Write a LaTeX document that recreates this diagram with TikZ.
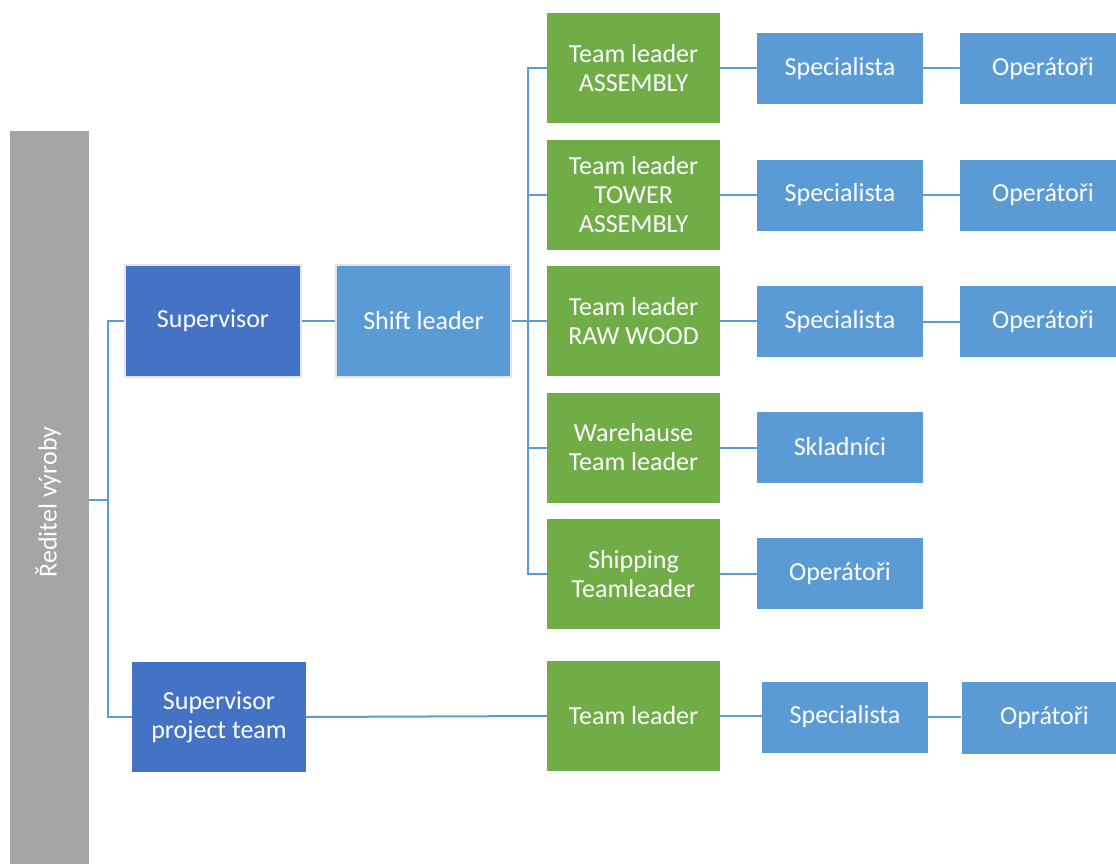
\documentclass[tikz,border=0pt]{standalone}
\usepackage{fontspec}
\setmainfont{Carlito}
\definecolor{dirgrey}{HTML}{A5A5A5}
\definecolor{darkblue}{HTML}{4472C4}
\definecolor{lightblue}{HTML}{5B9BD5}
\definecolor{leafgreen}{HTML}{70AD47}
\definecolor{edgegrey}{HTML}{E4E4E4}
\begin{document}
\begin{tikzpicture}[x=1pt,y=-1pt,
  box/.style={inner sep=0pt, text=white, align=center,
    font=\fontsize{26}{29}\selectfont},
  supbox/.style={box, fill=darkblue},
  shiftbox/.style={box, fill=lightblue},
  framed/.style={draw=edgegrey, line width=2pt},
  leader/.style={box, fill=leafgreen, minimum width=173, minimum height=110},
  spec/.style={box, fill=lightblue, minimum width=166, minimum height=71},
  oper/.style={box, fill=lightblue, minimum width=166, minimum height=71},
  conn/.style={draw=lightblue, line width=2pt}]
\useasboundingbox (0,0) rectangle (1116,864);

% director column
\node[fill=dirgrey, minimum width=79, minimum height=733, inner sep=0pt] (dir) at (49.5,497.5) {};
\node[box, rotate=90] (dirtext) at (48,502) {Ředitel výroby};

% supervisors
\node[supbox, framed, minimum width=176, minimum height=112] (sup) at (213,321) {Supervisor};
\node[shiftbox, framed, minimum width=175, minimum height=112] (shift) at (423.5,321) {Shift leader};
\node[supbox, minimum width=174, minimum height=110] (proj) at (219,717) {Supervisor\\project team};

% team leaders
\node[leader] (g1) at (633.5,68) {Team leader\\ASSEMBLY};
\node[leader] (g2) at (633.5,195) {Team leader\\TOWER\\ASSEMBLY};
\node[leader] (g3) at (633.5,321) {Team leader\\RAW WOOD};
\node[leader] (g4) at (633.5,447.5) {Warehause\\Team leader};
\node[leader] (g5) at (633.5,574) {Shipping\\Teamleader};
\node[leader] (g6) at (633.5,716) {Team leader};

% specialists and operators
\node[spec] (s1) at (840,68.5) {Specialista};
\node[spec] (s2) at (840,195) {Specialista};
\node[spec] (s3) at (840,321.5) {Specialista};
\node[spec] (s4) at (840,447) {Skladníci};
\node[spec] (s5) at (840,573.5) {Operátoři};
\node[spec] (s6) at (845,717) {Specialista};

\node[oper] (o1) at (1043,68.5) {Operátoři};
\node[oper] (o2) at (1043,195) {Operátoři};
\node[oper] (o3) at (1043,321.5) {Operátoři};
\node[oper, minimum height=72] (o6) at (1044.5,718) {Oprátoři};

% junction points
\coordinate (j1) at (108,500);
\coordinate (j2) at (528,321);

% connectors
\draw[conn] (dir.east |- j1) -- (j1);
\draw[conn] (sup.west) -| (j1) |- (proj.west);
\draw[conn] (sup.east) -- (shift.west);
\draw[conn] (shift.east) -- (j2);
\draw[conn] (g1.west) -| (j2) |- (g5.west);
\draw[conn] (j2 |- g2.west) -- (g2.west);
\draw[conn] (j2) -- (g3.west);
\draw[conn] (j2 |- g4.west) -- (g4.west);
\draw[conn] (proj.east) -- (g6.west);

\draw[conn] (g1.east) -- (g1.east -| s1.west);
\draw[conn] (g2.east) -- (g2.east -| s2.west);
\draw[conn] (g3.east) -- (g3.east -| s3.west);
\draw[conn] (g4.east) -- (g4.east -| s4.west);
\draw[conn] (g5.east) -- (g5.east -| s5.west);
\draw[conn] (g6.east) -- (g6.east -| s6.west);

\draw[conn] (s1.east) -- (s1.east -| o1.west);
\draw[conn] (s2.east) -- (s2.east -| o2.west);
\draw[conn] (s3.east) -- (s3.east -| o3.west);
\draw[conn] (s6.east) -- (s6.east -| o6.west);
\end{tikzpicture}
\end{document}
